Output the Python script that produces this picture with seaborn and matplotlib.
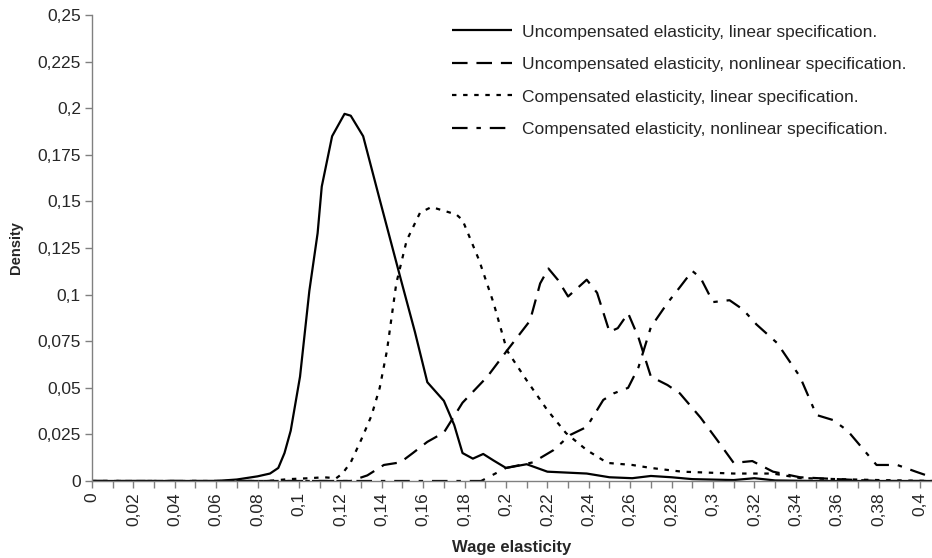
import numpy as np
import pandas as pd
import matplotlib
matplotlib.use("Agg")
import matplotlib.pyplot as plt
import matplotlib.ticker as mticker
import seaborn as sns

# values (wage elasticity, density)
unc_lin_x = [0.0, 0.06, 0.07, 0.08, 0.086, 0.09, 0.093, 0.096, 0.1005, 0.105, 0.109, 0.111,
             0.116, 0.122, 0.125, 0.131, 0.139, 0.149, 0.156, 0.162, 0.170, 0.175, 0.179,
             0.184, 0.189, 0.194, 0.200, 0.210, 0.220, 0.239, 0.250, 0.261, 0.270, 0.280,
             0.290, 0.310, 0.320, 0.330, 0.350, 0.4058]
unc_lin_y = [0.0, 0.0, 0.0008, 0.0025, 0.004, 0.007, 0.015, 0.027, 0.056, 0.102, 0.133, 0.158,
             0.185, 0.197, 0.196, 0.185, 0.151, 0.109, 0.080, 0.053, 0.043, 0.030, 0.015,
             0.012, 0.0145, 0.011, 0.007, 0.009, 0.005, 0.004, 0.002, 0.0015, 0.0027, 0.002,
             0.001, 0.0005, 0.0015, 0.0003, 0.0, 0.0]

unc_nl_x = [0.0, 0.125, 0.133, 0.141, 0.149, 0.155, 0.162, 0.170, 0.179, 0.191, 0.2005, 0.2116,
            0.2165, 0.2205, 0.225, 0.230, 0.234, 0.239, 0.244, 0.250, 0.254, 0.259, 0.264,
            0.270, 0.278, 0.284, 0.294, 0.302, 0.310, 0.319, 0.329, 0.342, 0.360, 0.380, 0.4058]
unc_nl_y = [0.0, 0.0, 0.003, 0.0086, 0.010, 0.015, 0.021, 0.026, 0.042, 0.056, 0.070, 0.086,
            0.106, 0.114, 0.108, 0.099, 0.103, 0.108, 0.101, 0.080, 0.082, 0.090, 0.077,
            0.056, 0.0515, 0.047, 0.034, 0.022, 0.0097, 0.0107, 0.005, 0.002, 0.001, 0.0, 0.0]

comp_lin_x = [0.0, 0.085, 0.095, 0.105, 0.112, 0.118, 0.121, 0.125, 0.130, 0.135, 0.139, 0.1425,
              0.147, 0.152, 0.1585, 0.164, 0.170, 0.176, 0.179, 0.187, 0.194, 0.2005, 0.210,
              0.220, 0.229, 0.239, 0.249, 0.261, 0.270, 0.285, 0.310, 0.329, 0.342, 0.360,
              0.380, 0.4058]
comp_lin_y = [0.0, 0.0, 0.001, 0.0015, 0.002, 0.0015, 0.004, 0.010, 0.022, 0.035, 0.050, 0.070,
              0.106, 0.129, 0.144, 0.147, 0.145, 0.143, 0.140, 0.1185, 0.0955, 0.070, 0.054,
              0.038, 0.0257, 0.0166, 0.0097, 0.0086, 0.007, 0.005, 0.004, 0.004, 0.0016, 0.001,
              0.0005, 0.0]

comp_nl_x = [0.0, 0.188, 0.200, 0.213, 0.223, 0.231, 0.239, 0.247, 0.252, 0.259, 0.264, 0.270,
             0.278, 0.284, 0.290, 0.294, 0.300, 0.308, 0.3145, 0.321, 0.331, 0.342, 0.350,
             0.358, 0.365, 0.379, 0.389, 0.398, 0.4058]
comp_nl_y = [0.0, 0.0, 0.007, 0.010, 0.0166, 0.0247, 0.029, 0.0435, 0.047, 0.050, 0.061, 0.0826,
             0.0955, 0.104, 0.1127, 0.109, 0.096, 0.097, 0.092, 0.084, 0.074, 0.056, 0.0354,
             0.0327, 0.027, 0.0086, 0.0086, 0.005, 0.002]

labels = ["Uncompensated elasticity, linear specification.",
          "Uncompensated elasticity, nonlinear specification.",
          "Compensated elasticity, linear specification.",
          "Compensated elasticity, nonlinear specification."]


def comma(v, pos=None):
    s = ("%.3f" % v).rstrip("0").rstrip(".")
    return s.replace(".", ",")


sns.set_theme(style="white", context="notebook")
plt.rcParams['font.family'] = ['Liberation Sans', 'DejaVu Sans']

fig = plt.figure(figsize=(9.32, 5.58), dpi=100)
ax = fig.add_axes([0.0987, 0.138, 0.9013, 0.835])

series = [(unc_lin_x, unc_lin_y, (0, ())),
          (unc_nl_x, unc_nl_y, (0, (7, 4))),
          (comp_lin_x, comp_lin_y, (0, (2, 3))),
          (comp_nl_x, comp_nl_y, (0, (7, 4, 2, 4)))]

for (xs, ys, ls), lab in zip(series, labels):
    df = pd.DataFrame({"x": xs, "y": ys})
    sns.lineplot(data=df, x="x", y="y", ax=ax, color="black", linewidth=1.6,
                 linestyle=ls, label=lab, estimator=None, sort=False)

ax.set_xlim(0, 0.4058)
ax.set_ylim(0, 0.25)
ax.xaxis.set_major_locator(mticker.MultipleLocator(0.02))
ax.xaxis.set_minor_locator(mticker.MultipleLocator(0.01))
ax.yaxis.set_major_locator(mticker.MultipleLocator(0.025))
ax.xaxis.set_major_formatter(mticker.FuncFormatter(comma))
ax.yaxis.set_major_formatter(mticker.FuncFormatter(comma))
ax.tick_params(axis="x", which="both", rotation=90, labelsize=12.5, length=5,
               width=1, color="#808080", direction="out", bottom=True, pad=3)
ax.tick_params(axis="y", labelsize=12.5, length=5, width=1, color="#808080",
               direction="out", left=True, pad=3)

for side in ["top", "right"]:
    ax.spines[side].set_visible(False)
for side in ["left", "bottom"]:
    ax.spines[side].set_color("#808080")
    ax.spines[side].set_linewidth(1)

ax.set_xlabel("Wage elasticity", fontsize=12, fontweight="bold", labelpad=10)
ax.set_ylabel("Density", fontsize=10.5, fontweight="bold", labelpad=10)

ax.legend(loc="upper left", bbox_to_anchor=(0.4286, 0.98), frameon=False,
          fontsize=12.5, handlelength=3.45, handletextpad=0.6, labelspacing=1.0,
          borderpad=0, borderaxespad=0)

fig.savefig("out.png", dpi=100, facecolor="white")
